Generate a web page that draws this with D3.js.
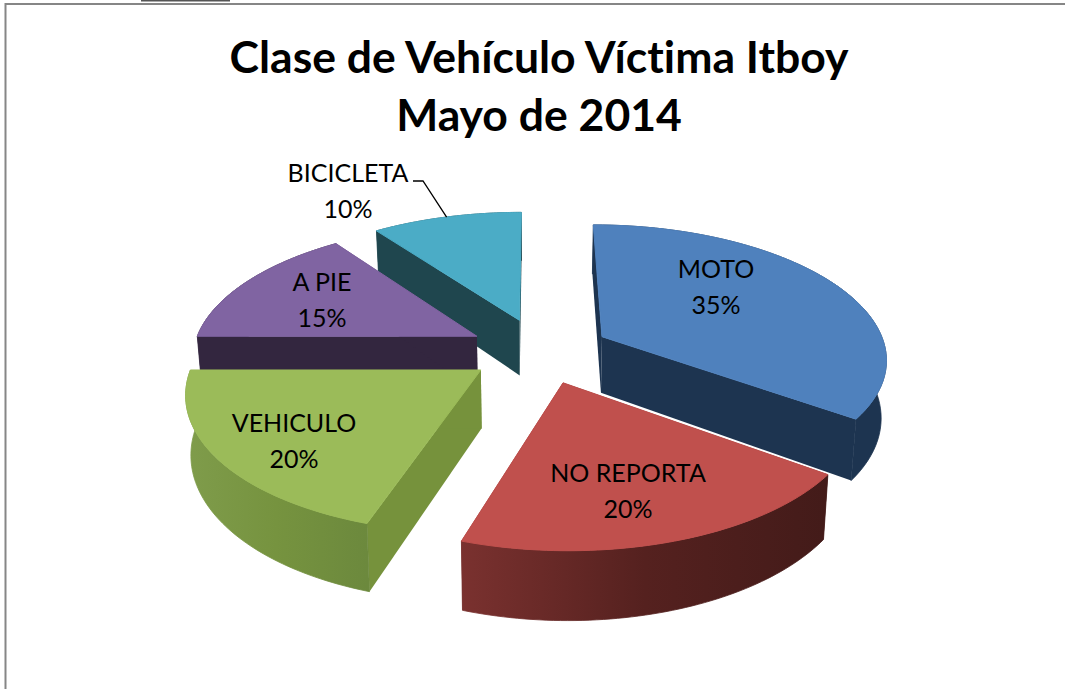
<!DOCTYPE html>
<html>
<head>
<meta charset="utf-8">
<script src="https://cdn.jsdelivr.net/npm/d3@7/dist/d3.min.js"></script>
<style>
html,body{margin:0;padding:0;background:#fff;overflow:hidden}
svg{display:block}
text{font-family:Lato,"Open Sans",sans-serif;fill:#000;font-variant-ligatures:none}
</style>
</head>
<body>
<svg id="c" width="1065" height="689"></svg>
<script>
// ---- data ----
const titleLines = ["Clase de Vehículo Víctima Itboy", "Mayo de 2014"];
const categories = ["MOTO", "NO REPORTA", "VEHICULO", "A PIE", "BICICLETA"];
const shares = [35, 20, 20, 15, 10];

// ---- styles ----
const topColors  = ["#4f81bd", "#c0504d", "#9bbb59", "#8064a2", "#4bacc6"];
const faceColors = ["#1d3450", "#4f1f1d", "#76923c", "#33263f", "#1f464e"];
const rimStops = [
  ["#1d3450", "#1d3450", "#1d3450"],
  ["#7a312f", "#55211f", "#431b19"],
  ["#7f9c4b", "#76933f", "#6c893d"],
  ["#33263f", "#33263f", "#33263f"],
  ["#1f464e", "#1f464e", "#1f464e"]
];

// ---- layout: a perspective view of the ground plane ----
const R = 284, wallHeight = 57, cx = 534, horizon = -539, focalK = 889, depthD = 1911, wallTaper = 0.015;
const explodeX = [69, 28, -52, -58, -15];
const explodeY = [-29, 68, 42, -30, -66];
const labelAt = [[716, 278], [628, 482], [294, 432], [322, 291], [348, 182]];
const drawOrder = [4, 3, 0, 2, 1];

function project(i, angle, r, z) {
  const X = explodeX[i] + r * Math.sin(angle);
  const Y = explodeY[i] - r * Math.cos(angle);
  const s = 1 / (1 - Y / depthD);
  return [cx + X * s * (1 - wallTaper * z), horizon + focalK * s + wallHeight * s * z];
}

const svg = d3.select("#c");
const line = d3.line();
const arcs = d3.pie().sort(null).startAngle(0).endAngle(2 * Math.PI)(shares);
const defs = svg.append("defs");

// frame
svg.append("rect").attr("x", 141).attr("y", 0).attr("width", 89).attr("height", 1.5).attr("fill", "#555");
svg.append("path").attr("d", "M5.5,689V4H1065").attr("fill", "none").attr("stroke", "#868686").attr("stroke-width", 2);

// slices, back to front
drawOrder.forEach(i => {
  const a = arcs[i];
  const angles = d3.range(0, 61).map(k => a.startAngle + (a.endAngle - a.startAngle) * k / 60);
  const g = svg.append("g");
  const wall = (a0) => [project(i, a0, 0, 0), project(i, a0, R, 0), project(i, a0, R, 1), project(i, a0, 0, 1)];
  const rimTop = angles.map(t => project(i, t, R, 0));
  const rimBot = angles.map(t => project(i, t, R, 1));
  const xs = rimTop.map(p => p[0]);

  const grad = defs.append("linearGradient").attr("id", "rim" + i)
    .attr("gradientUnits", "userSpaceOnUse")
    .attr("x1", d3.min(xs)).attr("x2", d3.max(xs)).attr("y1", 0).attr("y2", 0);
  rimStops[i].forEach((col, k) => grad.append("stop").attr("offset", k / 2).attr("stop-color", col));

  g.append("path").attr("d", line(wall(a.startAngle)) + "Z").attr("fill", faceColors[i]);
  g.append("path").attr("d", line(wall(a.endAngle)) + "Z").attr("fill", faceColors[i]);
  g.append("path").attr("d", line(rimTop.concat(rimBot.slice().reverse())) + "Z")
    .attr("fill", "url(#rim" + i + ")").attr("stroke", "url(#rim" + i + ")").attr("stroke-width", 0.8);
  g.append("path").attr("d", line([project(i, 0, 0, 0)].concat(rimTop)) + "Z")
    .attr("fill", topColors[i]).attr("stroke", topColors[i]).attr("stroke-width", 1);
});

// leader line of the small slice
const small = arcs[4];
const tip = project(4, (small.startAngle + small.endAngle) / 2, R, 0);
svg.append("path")
  .attr("d", line([[labelAt[4][0] + 65, labelAt[4][1] - 1], [labelAt[4][0] + 75, labelAt[4][1] - 1], tip]))
  .attr("fill", "none").attr("stroke", "#000").attr("stroke-width", 1.3);

// title
svg.selectAll("text.title").data(titleLines).join("text").attr("class", "title")
  .attr("x", 539).attr("y", (d, i) => 73 + i * 58)
  .attr("text-anchor", "middle").attr("font-size", 44.5).attr("font-weight", 700).text(d => d);

// labels
categories.forEach((c, i) => {
  const t = svg.append("text").attr("text-anchor", "middle").attr("font-size", 25);
  t.append("tspan").attr("x", labelAt[i][0]).attr("y", labelAt[i][1]).text(c);
  t.append("tspan").attr("x", labelAt[i][0]).attr("y", labelAt[i][1] + 36).text(shares[i] + "%");
});
</script>
</body>
</html>
